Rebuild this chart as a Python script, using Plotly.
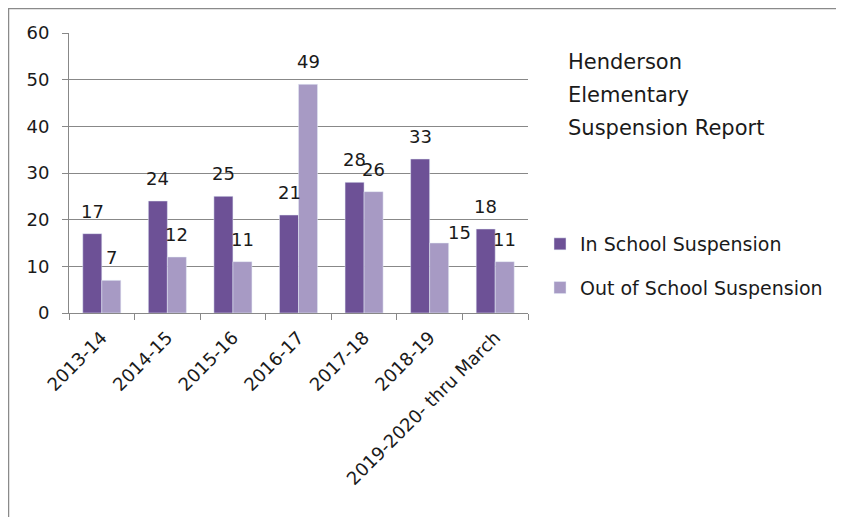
import plotly.graph_objects as go

categories = ["2013-14", "2014-15", "2015-16", "2016-17", "2017-18", "2018-19", "2019-2020- thru March"]
in_school = [17, 24, 25, 21, 28, 33, 18]
out_school = [7, 12, 11, 49, 26, 15, 11]
series_names = ["In School Suspension", "Out of School Suspension"]
title_lines = ["Henderson", "Elementary", "Suspension Report"]

FONT = "DejaVu Sans"
DARK = "#6D5196"
LIGHT = "#A79AC4"
GRID = "#888888"
TXT = "#1a1a1a"

# page offset of 8px (body margin); plot area target in screen px: x 69..528, y 33..313
OFF = 8
W, H = 844 - OFF, 517 - OFF
L, R, T, B = 69 - OFF, 528 - OFF, 33 - OFF, 313 - OFF
pw, ph = R - L, B - T


def px_x(sx):
    return (sx - OFF - L) / pw


def px_y(sy):
    return (B - (sy - OFF)) / ph


fig = go.Figure()
fig.add_trace(go.Bar(x=categories, y=in_school, name=series_names[0], marker_color=DARK,
                     legendgroup="a", hoverinfo="x+y"))
fig.add_trace(go.Bar(x=categories, y=out_school, name=series_names[1], marker_color=LIGHT,
                     legendgroup="b", hoverinfo="x+y"))

# data labels
bar_half = 9.5
nudges = {(1, 5): (20, -12)}
for si, vals in enumerate([in_school, out_school]):
    for ci, v in enumerate(vals):
        dx, dy = nudges.get((si, ci), (0, 0))
        fig.add_annotation(x=categories[ci], y=v, xref="x", yref="y", text=str(v),
                           showarrow=False, yanchor="bottom",
                           xshift=(-bar_half if si == 0 else bar_half) + dx,
                           yshift=10 + dy,
                           font=dict(family=FONT, size=18, color=TXT))

for i, line in enumerate(title_lines):
    fig.add_annotation(x=px_x(566), y=px_y(62 + 33 * i), xref="paper", yref="paper", text=line,
                       showarrow=False, xanchor="left", yanchor="middle",
                       font=dict(family=FONT, size=21, color=TXT))

# outer frame (top and left edges)
frame = dict(color="#8a8a8a", width=1.5)
fig.add_shape(type="line", xref="paper", yref="paper",
              x0=px_x(8), x1=px_x(844), y0=px_y(8.5), y1=px_y(8.5), line=frame, layer="below")
fig.add_shape(type="line", xref="paper", yref="paper",
              x0=px_x(8.5), x1=px_x(8.5), y0=px_y(8), y1=px_y(517), line=frame, layer="below")

fig.update_layout(
    width=W, height=H,
    margin=dict(l=L, r=W - R, t=T, b=H - B, autoexpand=False),
    paper_bgcolor="white", plot_bgcolor="white",
    barmode="group", bargap=0.42, bargroupgap=0,
    font=dict(family=FONT, size=18, color=TXT),
    showlegend=True,
    legend=dict(x=px_x(540), y=px_y(225), xanchor="left", yanchor="top",
                font=dict(family=FONT, size=19, color=TXT),
                tracegroupgap=16, bgcolor="rgba(0,0,0,0)"),
)
fig.update_xaxes(type="category", showline=True, linecolor=GRID, linewidth=1,
                 ticks="outside", tickson="boundaries", ticklen=6, tickcolor=GRID,
                 tickangle=-45, showgrid=False, automargin=False, ticklabelstandoff=6,
                 tickfont=dict(family=FONT, size=18, color=TXT))
fig.update_yaxes(range=[0, 60], dtick=10, showline=True, linecolor=GRID, linewidth=1,
                 ticks="outside", ticklen=6, tickcolor=GRID, showgrid=True,
                 gridcolor=GRID, gridwidth=1, zeroline=False, automargin=False,
                 ticklabelstandoff=9,
                 tickfont=dict(family=FONT, size=18, color=TXT))

fig.write_html("out.html")
